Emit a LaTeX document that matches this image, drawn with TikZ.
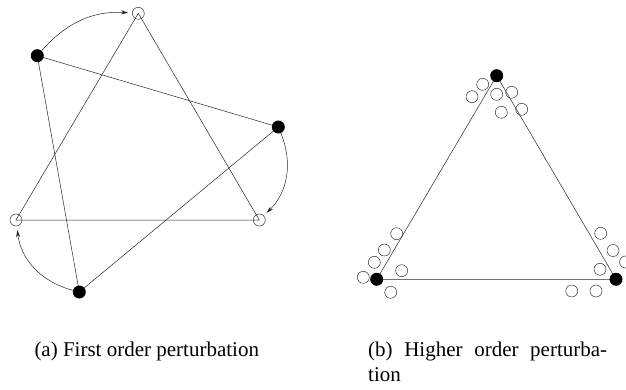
\documentclass[tikz,border=0pt]{standalone}
\usepackage{fontspec}
\setmainfont{Liberation Serif}
\usetikzlibrary{arrows.meta}
\begin{document}
\begin{tikzpicture}[x=1pt,y=-1pt,
  edge/.style={draw=black!85, line width=0.5pt},
  opn/.style={circle, draw=black!80, line width=0.5pt, inner sep=0pt, minimum size=12pt},
  fld/.style={circle, fill=black, inner sep=0pt, minimum size=13pt},
  mv/.style={draw=black!85, line width=0.5pt, -{Stealth[length=7pt,width=4pt]}, shorten >=4pt},
  captxt/.style={anchor=base west, inner sep=0pt, font=\fontsize{21}{25}\selectfont}]
\useasboundingbox (0,0) rectangle (626,390);
% panel (a)
\coordinate (Tc) at (138.3,13.3);
\coordinate (Lc) at (16,220);
\coordinate (Rc) at (259.3,220);
\coordinate (Ac) at (37.3,55.7);
\coordinate (Bc) at (278.3,127);
\coordinate (Cc) at (79.3,292);
\draw[edge] (Tc) -- (Lc) -- (Rc) -- cycle;
\draw[edge] (Ac) -- (Bc) -- (Cc) -- cycle;
\node[opn] (T) at (Tc) {};
\node[opn] (L) at (Lc) {};
\node[opn] (R) at (Rc) {};
\node[fld] (A) at (Ac) {};
\node[fld] (B) at (Bc) {};
\node[fld] (C) at (Cc) {};
\draw[mv] (A) to[bend left=26] (T);
\draw[mv] (B) to[bend left=34] (R);
\draw[mv] (C) to[bend left=34] (L);
% panel (b)
\coordinate (P) at (496.7,75.7);
\coordinate (Q) at (376.7,279.3);
\coordinate (S) at (616,279.3);
\draw[edge] (P) -- (Q) -- (S) -- cycle;
\node[opn] (t1) at (482.7,84.3) {};
\node[opn] (t2) at (472,96.7) {};
\node[opn] (t3) at (496.7,94.3) {};
\node[opn] (t4) at (511.7,92.3) {};
\node[opn] (t5) at (501.3,112.3) {};
\node[opn] (t6) at (521.7,109.3) {};
\node[opn] (l1) at (396.7,233.7) {};
\node[opn] (l2) at (384.3,250) {};
\node[opn] (l3) at (374.3,262.3) {};
\node[opn] (l4) at (363.3,277.3) {};
\node[opn] (l5) at (401.7,270.7) {};
\node[opn] (l6) at (390.7,292.3) {};
\node[opn] (r1) at (600.7,233.3) {};
\node[opn] (r2) at (613,250.5) {};
\node[opn] (r3) at (625.5,262) {};
\node[opn] (r4) at (600,269.3) {};
\node[opn] (r5) at (571.7,291) {};
\node[opn] (r6) at (596,291) {};
\node[fld] (p) at (P) {};
\node[fld] (q) at (Q) {};
\node[fld] (s) at (S) {};
% captions
\node[captxt] (capa) at (34.3,356.7) {(a) First order perturbation};
\node[captxt] (capb) at (368,356.7) {\hbox to 239pt{(b)\hfill Higher\hfill order\hfill perturba-}};
\node[captxt] (capb2) at (368,381.5) {tion};
\end{tikzpicture}
\end{document}
